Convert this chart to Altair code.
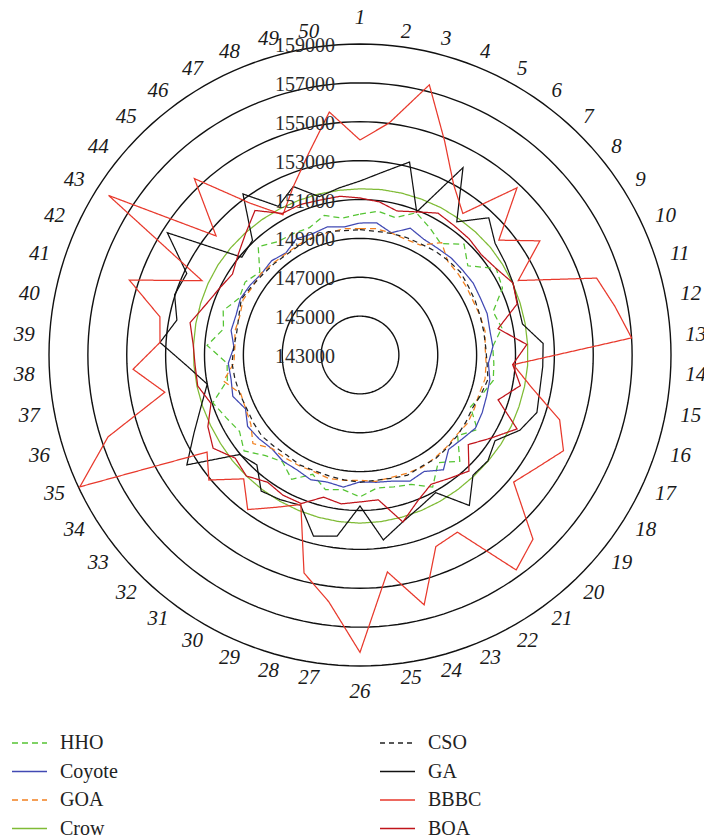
import altair as alt
import pandas as pd

# Spokes 1..50 around the circle, rings every 2000 from the centre value
spokes = list(range(1, 51))
rings = [145000, 147000, 149000, 151000, 153000, 155000, 157000, 159000]
ring_labels = [143000, 145000, 147000, 149000, 151000, 153000, 155000, 157000, 159000]
R_MIN, R_MAX = 143000, 159000

hho = [150250, 150450, 150300, 150870, 150460, 150080, 150820, 150200, 151300, 151100,
       150200, 150430, 149840, 149900, 149980, 149600, 149280, 150150, 149520, 150500,
       149840, 150760, 150160, 150000, 149900, 150300, 149980, 150150, 149600, 150300,
       149790, 150100, 150740, 150340, 150600, 150960, 149950, 149850, 150880, 150150,
       150400, 149870, 150000, 149690, 150650, 150200, 150130, 150050, 150410, 150100]
coyote = [149790, 149850, 149490, 150020, 149800, 149790, 149850, 149850, 149900, 149850,
          149880, 149800, 149850, 149620, 149800, 149850, 149950, 150030, 149800, 149660,
          150300, 149840, 149980, 149700, 149600, 149530, 149850, 149750, 149900, 149740,
          149750, 149620, 149750, 149850, 149510, 149880, 149750, 149790, 149500, 149750,
          149700, 149800, 149700, 149570, 149650, 149490, 149810, 149700, 149800, 149640]
goa = [149500, 149550, 149480, 149400, 149450, 150150, 149600, 149550, 149500, 149450,
       149500, 149550, 149450, 149500, 149550, 149450, 149500, 149550, 149450, 149500,
       149550, 149600, 149550, 149500, 149550, 149450, 149500, 149550, 149450, 149500,
       149550, 149600, 150150, 149650, 149500, 149450, 150150, 149500, 149450, 149550,
       149500, 149650, 149550, 149600, 149500, 149450, 149500, 149550, 149500, 149550]
crow = [151550, 151580, 151600, 151620, 151650, 151660, 151680, 151700, 151690, 151680,
        151660, 151650, 151640, 151640, 151620, 151600, 151600, 151580, 151560, 151550,
        151560, 151580, 151600, 151620, 151640, 151650, 151640, 151620, 151600, 151580,
        151560, 151540, 151520, 151500, 151500, 151520, 151540, 151560, 151580, 151600,
        151620, 151640, 151650, 151640, 151620, 151600, 151580, 151560, 151550, 151540]
cso = [149450, 149420, 149460, 149500, 149520, 149600, 149650, 149700, 149600, 149550,
       149500, 149480, 149480, 149550, 149700, 149550, 149400, 149450, 149500, 149550,
       149600, 149550, 149650, 149550, 149500, 149550, 149480, 149420, 149400, 149450,
       149380, 149450, 149550, 149500, 149450, 149500, 149550, 149600, 149500, 149450,
       149550, 149750, 149600, 149500, 149450, 149400, 149450, 149500, 149550, 149450]
ga = [151950, 152490, 153250, 150920, 154000, 151470, 152680, 152020, 151850, 151700,
      151530, 151510, 152440, 152420, 152420, 152570, 152090, 151230, 151540, 151490,
      152570, 151080, 151400, 151860, 152590, 150770, 152390, 152620, 151310, 151500,
      151650, 150750, 151030, 153550, 152440, 151600, 151000, 151920, 153310, 152590,
      153030, 152850, 154740, 150890, 151080, 153240, 151730, 152320, 151410, 151660]
bbbc = [154060, 155040, 157350, 154830, 153000, 152000, 154800, 152270, 153960, 152000,
        155800, 156350, 157000, 150900, 152000, 153800, 154570, 153800, 153260, 156000,
        156670, 153400, 153600, 156270, 154250, 158300, 155800, 154580, 151270, 151940,
        152830, 151740, 153090, 152320, 158930, 156630, 153220, 154700, 153310, 153480,
        155480, 151980, 158320, 152610, 155450, 152670, 151230, 152320, 153680, 155600]
boa = [151080, 150940, 150650, 150920, 151330, 151230, 151200, 151100, 151300, 151700,
       151500, 150230, 151600, 150870, 151400, 150470, 151930, 150980, 150230, 151190,
       150840, 150590, 151070, 151870, 150510, 150560, 150720, 150550, 151220, 151230,
       151090, 151540, 151330, 151950, 151650, 151060, 151500, 151500, 151600, 151900,
       151350, 151010, 150770, 151130, 151590, 152190, 151310, 151330, 151230, 151230]

names = ["HHO", "Coyote", "GOA", "Crow", "CSO", "GA", "BBBC", "BOA"]
series = [hho, coyote, goa, crow, cso, ga, bbbc, boa]
colors = ["#55c433", "#4149b3", "#f2801f", "#7fbb35", "#222222", "#111111", "#e8392c", "#c0141b"]
dashes = [[6, 4], [1, 0], [6, 4], [1, 0], [5, 4], [1, 0], [1, 0], [1, 0]]

# Canvas geometry: centre of the radar and its outer radius in pixels
W, H = 704, 837
CX, CY, R_PX = 360, 355, 311
UNIT = (R_MAX - R_MIN) / R_PX  # value units per pixel

xs = alt.Scale(domain=[-CX * UNIT, (W - CX) * UNIT], nice=False, zero=False)
ys = alt.Scale(domain=[-(H - CY) * UNIT, CY * UNIT], nice=False, zero=False)

# Long table of the closed polygons
rows = []
for name, vals in zip(names, series):
    closed = vals + vals[:1]
    for k, v in enumerate(closed):
        rows.append({"name": name, "spoke": spokes[k % len(spokes)], "seq": k, "value": v})
df = pd.DataFrame(rows)

ring_rows = []
for lvl in rings:
    for step in range(0, 181):
        ring_rows.append({"level": lvl, "deg": step * 2})
ring_df = pd.DataFrame(ring_rows)

ring_lines = alt.Chart(ring_df).transform_calculate(
    rr=f"datum.level - {R_MIN}",
).transform_calculate(
    px="datum.rr * sin(datum.deg * PI / 180)",
    py="datum.rr * cos(datum.deg * PI / 180)",
).mark_line(color="#111111", strokeWidth=1.4).encode(
    x=alt.X("px:Q", scale=xs, axis=None),
    y=alt.Y("py:Q", scale=ys, axis=None),
    detail="level:N",
    order="deg:Q",
)

series_lines = alt.Chart(df).transform_calculate(
    ang="(datum.spoke - 1) * 2 * PI / 50",
).transform_calculate(
    px=f"(datum.value - {R_MIN}) * sin(datum.ang)",
    py=f"(datum.value - {R_MIN}) * cos(datum.ang)",
).mark_line(strokeWidth=1.25).encode(
    x=alt.X("px:Q", scale=xs, axis=None),
    y=alt.Y("py:Q", scale=ys, axis=None),
    color=alt.Color("name:N", scale=alt.Scale(domain=names, range=colors), legend=None),
    strokeDash=alt.StrokeDash("name:N", scale=alt.Scale(domain=names, range=dashes), legend=None),
    detail="name:N",
    order="seq:Q",
)

ring_text = alt.Chart(pd.DataFrame({"level": ring_labels})).transform_calculate(
    py=f"datum.level - {R_MIN}",
    label="format(datum.level, 'd')",
).mark_text(
    font="Liberation Serif", fontSize=20, align="right", baseline="middle", dy=2, color="#2a2a2a"
).encode(
    x=alt.value(335),
    y=alt.Y("py:Q", scale=ys, axis=None),
    text="label:N",
)

# Spoke numbers: anchored just outside the outer ring, aligned away from the centre
spoke_base = alt.Chart(pd.DataFrame({"spoke": spokes})).transform_calculate(
    ang="(datum.spoke - 1) * 2 * PI / 50",
).transform_calculate(
    s="sin(datum.ang)",
    rp="abs(sin(datum.ang)) < 0.01 ? 337 : 326",
).transform_calculate(
    px=f"datum.rp * {UNIT} * sin(datum.ang)",
    py=f"datum.rp * {UNIT} * cos(datum.ang)",
    label="'' + datum.spoke",
)


def spoke_layer(cond, align):
    return spoke_base.transform_filter(cond).mark_text(
        font="Liberation Serif", fontSize=21, fontStyle="italic", align=align,
        baseline="middle", color="#1a1a1a",
    ).encode(
        x=alt.X("px:Q", scale=xs, axis=None),
        y=alt.Y("py:Q", scale=ys, axis=None),
        text="label:N",
    )


spoke_right = spoke_layer("datum.s > 0.01", "left")
spoke_left = spoke_layer("datum.s < -0.01", "right")
spoke_mid = spoke_layer("abs(datum.s) <= 0.01", "center")

# Legend: two columns of four entries at the bottom
leg_df = pd.DataFrame({
    "name": names,
    "col": [0, 0, 0, 0, 1, 1, 1, 1],
    "row": [0, 1, 2, 3, 0, 1, 2, 3],
})
leg_base = alt.Chart(leg_df).transform_calculate(
    lx="datum.col == 0 ? 12 : 380",
    ly="743 + datum.row * 28.5",
).transform_calculate(
    lx2="datum.lx + 35",
    tx="datum.lx + 48",
)
leg_lines = leg_base.mark_rule(strokeWidth=1.4).encode(
    x=alt.X("lx:Q", scale=None),
    x2="lx2:Q",
    y=alt.Y("ly:Q", scale=None),
    color=alt.Color("name:N", scale=alt.Scale(domain=names, range=colors), legend=None),
    strokeDash=alt.StrokeDash("name:N", scale=alt.Scale(domain=names, range=dashes), legend=None),
)
leg_text = leg_base.mark_text(
    font="Liberation Serif", fontSize=20, align="left", baseline="middle", color="#222222"
).encode(
    x=alt.X("tx:Q", scale=None),
    y=alt.Y("ly:Q", scale=None),
    text="name:N",
)

chart = alt.layer(
    ring_lines, series_lines, ring_text, spoke_right, spoke_left, spoke_mid, leg_lines, leg_text
).resolve_scale(color="shared", strokeDash="shared").properties(
    width=W, height=H, autosize=alt.AutoSizeParams(type="none"), padding=0,
    background="white",
).configure_view(stroke=None)

chart.save("out.html", embed_options={"renderer": "svg", "actions": False})
